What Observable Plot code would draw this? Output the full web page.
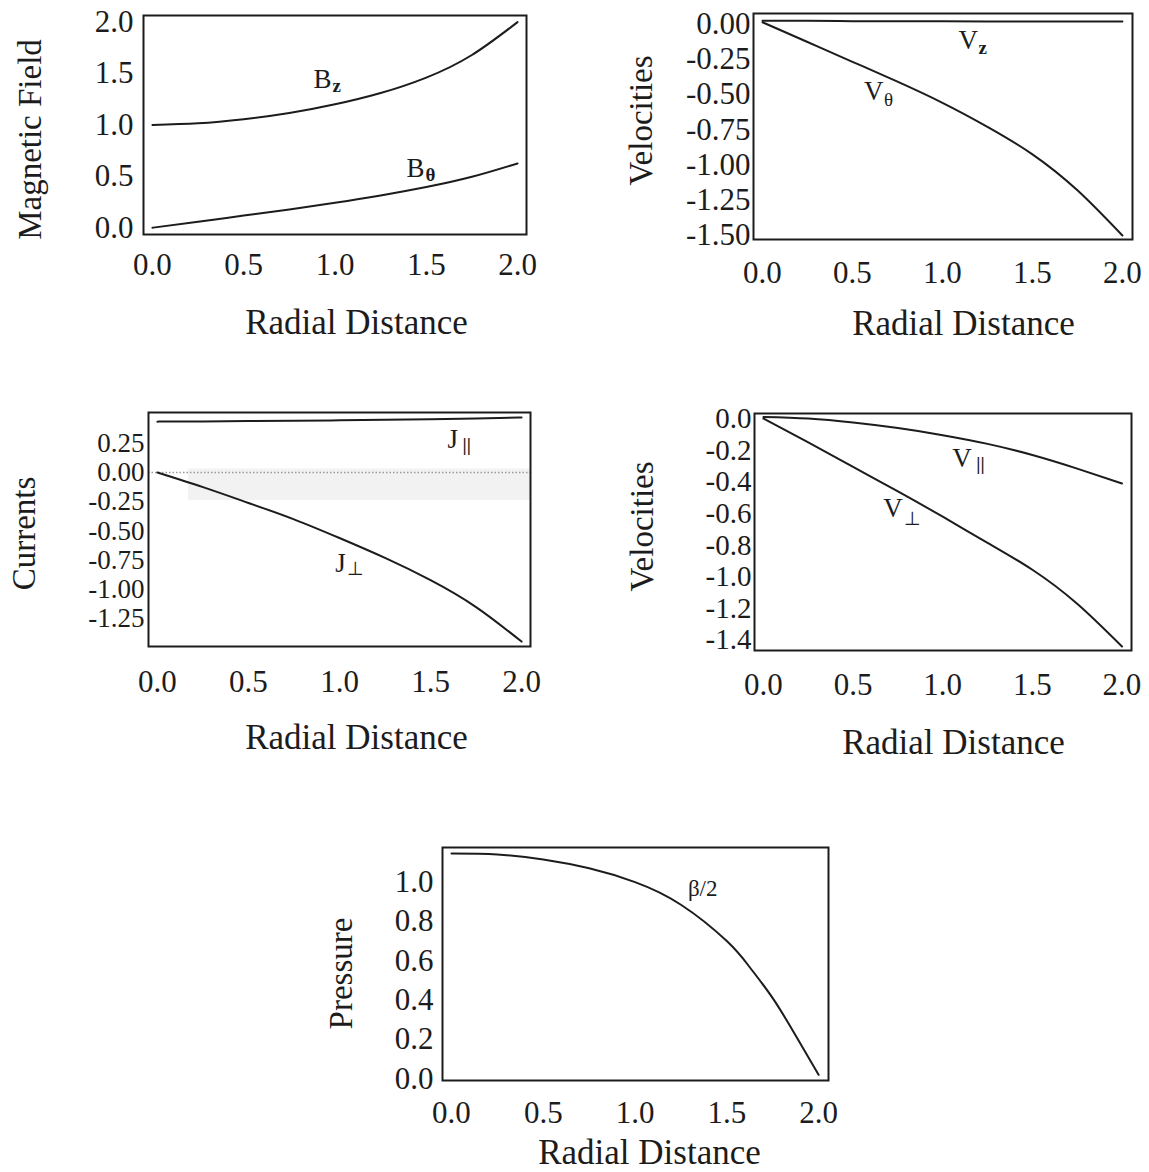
<!DOCTYPE html>
<html><head><meta charset="utf-8">
<script src="https://cdn.jsdelivr.net/npm/d3@7"></script>
<script src="https://cdn.jsdelivr.net/npm/@observablehq/plot@0.6"></script>
<style>
body{margin:0;background:#fff;}
#page{position:relative;width:1149px;height:1172px;overflow:hidden;background:#fff;}
#page svg{position:absolute;overflow:visible;max-width:none;}
</style></head><body><div id="page"></div>
<script>
// ---------- data ----------
const radius = [0, 0.25, 0.5, 0.75, 1.0, 1.25, 1.5, 1.75, 2.0];
const Bz     = [1.00, 1.015, 1.055, 1.115, 1.20, 1.31, 1.46, 1.68, 2.00];
const Btheta = [0.00, 0.058, 0.118, 0.178, 0.242, 0.313, 0.395, 0.495, 0.625];
const Vz     = [0.02, 0.02, 0.018, 0.018, 0.017, 0.016, 0.016, 0.015, 0.015];
const Vtheta = [0.01, -0.13, -0.27, -0.41, -0.56, -0.73, -0.925, -1.18, -1.50];
const Jpar   = [0.435, 0.437, 0.44, 0.443, 0.446, 0.45, 0.455, 0.462, 0.47];
const Jperp  = [0.00, -0.125, -0.26, -0.40, -0.56, -0.73, -0.92, -1.15, -1.445];
const Vpar   = [0.01, 0.00, -0.025, -0.06, -0.105, -0.16, -0.23, -0.316, -0.41];
const Vperp  = [0.00, -0.15, -0.305, -0.46, -0.62, -0.785, -0.955, -1.17, -1.44];
const radiusBeta = [0, 0.25, 0.5, 0.75, 1.0, 1.25, 1.5, 1.625, 1.75, 1.875, 2.0];
const betaHalf   = [1.145, 1.14, 1.115, 1.07, 1.00, 0.885, 0.70, 0.567, 0.41, 0.22, 0.02];

const xTicks = [0, 0.5, 1.0, 1.5, 2.0];
const yTicksField = [0, 0.5, 1.0, 1.5, 2.0];
const yTicksVel1 = [0, -0.25, -0.5, -0.75, -1.0, -1.25, -1.5];
const yTicksCur = [0.25, 0, -0.25, -0.5, -0.75, -1.0, -1.25];
const yTicksVel2 = [0, -0.2, -0.4, -0.6, -0.8, -1.0, -1.2, -1.4];
const yTicksPres = [0, 0.2, 0.4, 0.6, 0.8, 1.0];
const zeroLevel = [0];
const scanBand = [{x1: 0.17, x2: 2.05, y1: 0.03, y2: -0.24}];

// ---------- helpers ----------
const FONT = '"Liberation Serif","Times New Roman",serif';
const INK = "#1c1c1c";
const f1 = d => d.toFixed(1);
const f2 = d => d.toFixed(2);
const rows = (xs, ys) => xs.map((r, i) => ({r, v: ys[i]}));

function panel(p) {
  const {left, top, width, height, L, R, T, B} = p;
  const ml = L - left, mr = left + width - R, mt = T - top, mb = top + height - B;
  const fcx = (L + R) / 2, fcy = (T + B) / 2;
  const marks = [];
  if (p.extra) marks.push(...p.extra);
  for (const s of p.series) {
    marks.push(Plot.line(rows(s.xs, s.ys), {x: "r", y: "v", stroke: INK, strokeWidth: 2, curve: "natural"}));
  }
  for (const lb of p.labels) {
    marks.push(Plot.text([lb], {x: d => d.x, y: d => d.y, text: d => d.main, textAnchor: "start", lineAnchor: "bottom", fontSize: lb.size || 27, fill: INK, fontFamily: FONT}));
    if (lb.sub) marks.push(Plot.text([lb], {x: d => d.x, y: d => d.y, text: d => d.sub, textAnchor: "start", lineAnchor: "bottom", fontSize: 19, fill: INK, fontFamily: FONT, fontWeight: lb.subBold ? "bold" : "normal", dx: lb.sdx, dy: lb.sdy}));
  }
  marks.push(Plot.frame({stroke: INK, strokeWidth: 2}));
  marks.push(Plot.text([p.xTitle], {frameAnchor: "bottom", text: d => d, textAnchor: "middle", lineAnchor: "bottom", fontSize: 35, fill: INK, fontFamily: FONT, dx: p.xtX - fcx, dy: p.xtY - B}));
  marks.push(Plot.text([p.yTitle], {frameAnchor: "left", text: d => d, rotate: -90, textAnchor: "middle", lineAnchor: "bottom", fontSize: 33, fill: INK, fontFamily: FONT, dx: p.ytX - L, dy: p.ytY - fcy}));
  const svg = Plot.plot({
    width, height, marginLeft: ml, marginRight: mr, marginTop: mt, marginBottom: mb,
    style: {fontSize: "31px", fontFamily: FONT, color: INK, background: "transparent", overflow: "visible"},
    x: {domain: p.xDomain, ticks: xTicks, tickSize: 0, tickPadding: p.xPad, tickFormat: f1, label: null},
    y: {domain: p.yDomain, ticks: p.yTicks, tickSize: 0, tickPadding: p.yPad, tickFormat: p.yFmt, label: null},
    marks
  });
  if (p.yTickSize) {
    svg.querySelectorAll('[aria-label="y-axis tick label"] text').forEach(t => t.setAttribute("font-size", p.yTickSize));
    svg.querySelectorAll('[aria-label="y-axis tick label"]').forEach(g => g.setAttribute("font-size", p.yTickSize));
  }
  svg.style.left = left + "px";
  svg.style.top = top + "px";
  document.getElementById("page").appendChild(svg);
}

// Panel 1: magnetic field
panel({left: 0, top: 0, width: 575, height: 345, L: 143, R: 526, T: 15, B: 234,
  xDomain: [-0.049, 2.049], yDomain: [-0.066, 2.064], yTicks: yTicksField, yFmt: f1, yPad: 10, xPad: 18,
  series: [{xs: radius, ys: Bz}, {xs: radius, ys: Btheta}],
  labels: [{x: 0.882, y: 1.358, main: "B", sub: "z", sdx: 19, sdy: 4, subBold: true},
           {x: 1.392, y: 0.491, main: "B", sub: "θ", sdx: 19, sdy: 4, subBold: true}],
  xTitle: "Radial Distance", xtX: 356, xtY: 333, yTitle: "Magnetic Field", ytX: 40, ytY: 139});

// Panel 2: velocities (z, theta)
panel({left: 575, top: 0, width: 574, height: 345, L: 753, R: 1132, T: 13, B: 239,
  xDomain: [-0.05, 2.056], yDomain: [-1.528, 0.072], yTicks: yTicksVel1, yFmt: f2, yPad: 3, xPad: 21,
  series: [{xs: radius, ys: Vz}, {xs: radius, ys: Vtheta}],
  labels: [{x: 1.089, y: -0.180, main: "V", sub: "z", sdx: 20, sdy: 5, subBold: true},
           {x: 0.564, y: -0.540, main: "V", sub: "θ", sdx: 20, sdy: 6}],
  xTitle: "Radial Distance", xtX: 963, xtY: 334, yTitle: "Velocities", ytX: 651, ytY: 120});

// Panel 3: currents
panel({left: 0, top: 390, width: 575, height: 375, L: 148, R: 530, T: 412, B: 646,
  xDomain: [-0.049, 2.049], yDomain: [-1.487, 0.513], yTicks: yTicksCur, yFmt: f2, yPad: 4, xPad: 23, yTickSize: 27,
  extra: [Plot.rect(scanBand, {x1: "x1", x2: "x2", y1: "y1", y2: "y2", fill: "#f2f2f2"}),
          Plot.ruleY(zeroLevel, {stroke: "#9a9a9a", strokeWidth: 1.5, strokeDasharray: "1.5,2"})],
  series: [{xs: radius, ys: Jpar}, {xs: radius, ys: Jperp}],
  labels: [{x: 1.593, y: 0.208, main: "J", sub: "||", sdx: 15, sdy: 3, subBold: true},
           {x: 0.977, y: -0.846, main: "J", sub: "⊥", sdx: 12, sdy: 3}],
  xTitle: "Radial Distance", xtX: 356, xtY: 748, yTitle: "Currents", ytX: 34, ytY: 533});

// Panel 4: velocities (parallel, perpendicular)
panel({left: 575, top: 390, width: 574, height: 375, L: 754, R: 1131, T: 413, B: 650,
  xDomain: [-0.05, 2.053], yDomain: [-1.465, 0.032], yTicks: yTicksVel2, yFmt: f1, yPad: 3, xPad: 22, yTickSize: 29,
  series: [{xs: radius, ys: Vpar}, {xs: radius, ys: Vperp}],
  labels: [{x: 1.053, y: -0.305, main: "V", sub: "||", sdx: 24, sdy: 3, subBold: true},
           {x: 0.668, y: -0.621, main: "V", sub: "⊥", sdx: 21, sdy: 8}],
  xTitle: "Radial Distance", xtX: 953, xtY: 753, yTitle: "Velocities", ytX: 652, ytY: 526});

// Panel 5: pressure
panel({left: 250, top: 830, width: 650, height: 342, L: 442, R: 828, T: 847, B: 1080,
  xDomain: [-0.049, 2.054], yDomain: [-0.009, 1.176], yTicks: yTicksPres, yFmt: f1, yPad: 9, xPad: 20,
  series: [{xs: radiusBeta, ys: betaHalf}],
  labels: [{x: 1.288, y: 0.927, main: "β/2", size: 23}],
  xTitle: "Radial Distance", xtX: 649, xtY: 1163, yTitle: "Pressure", ytX: 351, ytY: 973});
</script></body></html>
